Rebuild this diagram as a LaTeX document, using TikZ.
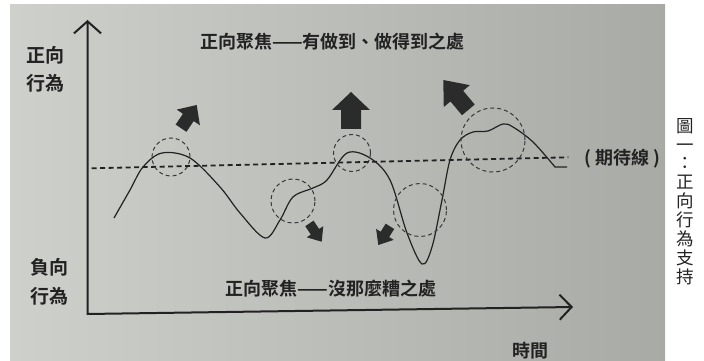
\documentclass[tikz,border=0pt]{standalone}
\usepackage{fontspec}
\newfontfamily\cjkb{Noto Sans CJK TC Bold}
\newfontfamily\cjk{Noto Sans CJK TC}
\usetikzlibrary{arrows.meta}
\definecolor{ink}{HTML}{222222}
\definecolor{arrfill}{HTML}{2B2B2B}
\newcommand\blockarr[7]{% tip x, tip y, angle, len, headlen, headhalf, shafthalf
  \fill[arrfill, shift={(#1,#2)}, rotate=#3] (0,0) -- (-#5,#6) -- (-#5,#7) -- (-#4,#7) -- (-#4,-#7) -- (-#5,-#7) -- (-#5,-#6) -- cycle;}
\begin{document}
\begin{tikzpicture}[x=1pt,y=1pt,
  axis/.style={draw=ink, line width=2pt, {Straight Barb[length=12pt,width=27pt,line width=2pt]}-{Straight Barb[length=12pt,width=25pt,line width=2pt]}},
  expect/.style={draw=ink, line width=1.8pt, dash pattern=on 5pt off 3.5pt},
  ring/.style={draw=ink!90, line width=1pt, dash pattern=on 4pt off 3pt},
  curvestyle/.style={draw=ink, line width=1.2pt},
  lbl/.style={text=ink, inner sep=0pt, align=center},
]
\useasboundingbox (0,0) rectangle (704,361);
\fill[white] (0,0) rectangle (704,361);
\shade[left color={rgb,255:red,206;green,208;blue,204}, middle color={rgb,255:red,200;green,202;blue,198}, right color={rgb,255:red,168;green,170;blue,166}] (10,0) rectangle (665,356);

% axes
\coordinate (O) at (87.5,47);
\coordinate (ytip) at (87.5,341);
\coordinate (xtip) at (573,54);
\draw[axis] (ytip) -- (O) -- (xtip);

% expectation line
\coordinate (e1) at (91.7,192.7);
\coordinate (e2) at (568.3,203.7);
\draw[expect] (e1) -- (e2);

% behaviour curve
\draw[curvestyle] plot[smooth, tension=0.55] coordinates {
 (114,143) (130,171) (143,194) (162,208) (190,203) (220,174) (240,148) (265,123)
 (280,141) (293,164) (313,173) (327,181) (347,208) (370,203) (390,181) (407,128)
 (422,97) (432,114) (442,161) (450,201) (460,221) (473,229) (488,230) (503,237)
 (513,234) (533,219) (555,194)} -- (567,194);

% dashed circles
\draw[ring] (171,204) circle (19);
\draw[ring] (293,160) circle (22);
\draw[ring] (352,208) circle (18.5);
\draw[ring] (420,151) circle (26.5);
\draw[ring] (493,221) circle (32);

% block arrows
\blockarr{196.7}{256}{56}{28}{15}{14}{6.5}
\blockarr{321.7}{119.3}{-56}{22}{12}{10}{5}
\blockarr{351}{269}{90}{37}{18}{19}{10}
\blockarr{443.3}{281}{130}{39}{21}{17}{8.3}
\blockarr{378.3}{116}{-122}{22}{12.5}{10.4}{5}

% texts
\node[lbl, font=\cjkb\fontsize{19}{28.5}\selectfont] (pos) at (46,291.75) {正向\\行為};
\node[lbl, font=\cjkb\fontsize{19}{29}\selectfont] (neg) at (49,79) {負向\\行為};
\node[lbl, font=\cjkb\fontsize{18}{22}\selectfont] (top) at (332.5,319.5) {正向聚焦——有做到、做得到之處};
\node[lbl, font=\cjkb\fontsize{18}{22}\selectfont] (bot) at (331,72.7) {正向聚焦——沒那麼糟之處};
\node[lbl, font=\cjkb\fontsize{18}{22}\selectfont] (time) at (530.5,10.5) {時間};
\node[lbl, font=\cjkb\fontsize{18}{22}\selectfont, anchor=west] (exp) at (584,202) {( 期待線 )};
\node[lbl, font=\cjk\fontsize{17.5}{18.9}\selectfont] (cap) at (685,159.5) {圖\\一\\：\\正\\向\\行\\為\\支\\持};
\end{tikzpicture}
\end{document}
